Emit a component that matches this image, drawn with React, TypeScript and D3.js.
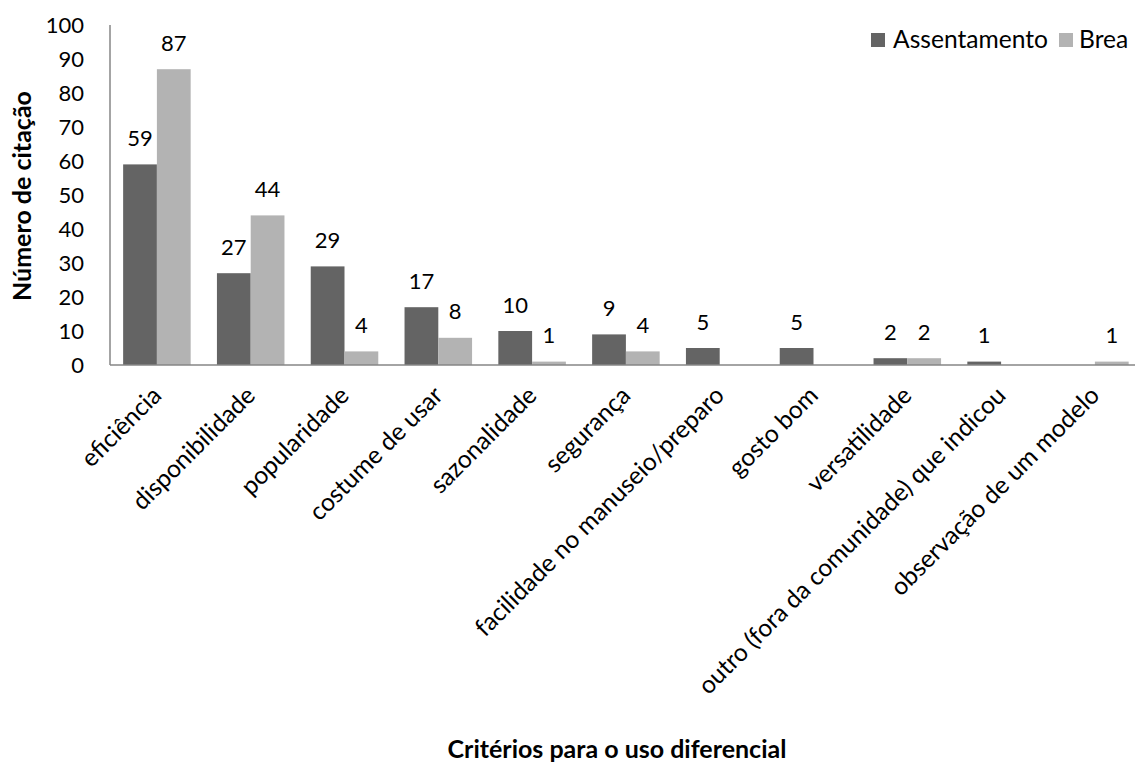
import React from "react";
import * as d3 from "d3";

const categories = [
  "eficiência",
  "disponibilidade",
  "popularidade",
  "costume de usar",
  "sazonalidade",
  "segurança",
  "facilidade no manuseio/preparo",
  "gosto bom",
  "versatilidade",
  "outro (fora da comunidade) que indicou",
  "observação de um modelo",
];

const seriesNames = ["Assentamento", "Brea"];
const assentamento: (number | null)[] = [59, 27, 29, 17, 10, 9, 5, 5, 2, 1, null];
const brea: (number | null)[] = [87, 44, 4, 8, 1, 4, null, null, 2, null, 1];
const yTicks = [0, 10, 20, 30, 40, 50, 60, 70, 80, 90, 100];

const colors = ["#646464", "#b3b3b3"];
const FONT = "Lato, 'Open Sans', sans-serif";

const W = 1135;
const H = 775;
const plotLeft = 110;
const band = 93.8;
const plotTop = 25;
const plotBottom = 365;

const numSize = 22;
const textSize = 24.6;
const titleSize = 25;

export default function App() {
  const x = d3
    .scaleBand<string>()
    .domain(categories)
    .range([plotLeft, plotLeft + band * categories.length])
    .paddingInner(0)
    .paddingOuter(0);
  const barW = x.bandwidth() * 0.36;
  const y = d3.scaleLinear().domain([0, 100]).range([plotBottom, plotTop]);

  const series = [assentamento, brea];

  return (
    <svg
      width={W}
      height={H}
      style={{ position: "absolute", left: 0, top: 0, background: "#fff" }}
      fontFamily={FONT}
    >
      {/* y axis line */}
      <line x1={plotLeft} x2={plotLeft} y1={plotTop} y2={plotBottom} stroke="#868686" strokeWidth={1.5} />
      {yTicks.map((t) => (
        <text key={t} x={84} y={y(t)} dy="0.36em" textAnchor="end" fontSize={numSize} fill="#000">
          {t}
        </text>
      ))}

      {/* bars */}
      {series.map((vals, si) =>
        vals.map((v, i) => {
          if (v == null) return null;
          const cx = (x(categories[i]) as number) + x.bandwidth() / 2;
          const bx = si === 0 ? cx - barW : cx;
          return (
            <rect
              key={`b${si}-${i}`}
              x={bx}
              y={y(v)}
              width={barW}
              height={y(0) - y(v)}
              fill={colors[si]}
            />
          );
        })
      )}

      {/* value labels */}
      {series.map((vals, si) =>
        vals.map((v, i) => {
          if (v == null) return null;
          const cx = (x(categories[i]) as number) + x.bandwidth() / 2;
          const lx = si === 0 ? cx - barW / 2 : cx + barW / 2;
          return (
            <text
              key={`l${si}-${i}`}
              x={lx}
              y={y(v) - 18.5}
              textAnchor="middle"
              fontSize={numSize}
              fill="#000"
            >
              {v}
            </text>
          );
        })
      )}

      {/* x axis line */}
      <line x1={plotLeft} x2={W} y1={plotBottom} y2={plotBottom} stroke="#868686" strokeWidth={1.5} />

      {/* category labels */}
      {categories.map((c) => {
        const cx = (x(c) as number) + x.bandwidth() / 2;
        return (
          <text
            key={c}
            transform={`translate(${cx + 6},${397}) rotate(-45)`}
            textAnchor="end"
            fontSize={textSize}
            fill="#000"
          >
            {c}
          </text>
        );
      })}

      {/* axis titles */}
      <text
        transform={`translate(31,196) rotate(-90)`}
        textAnchor="middle"
        fontSize={titleSize}
        fontWeight="bold"
        fill="#000"
      >
        Número de citação
      </text>
      <text x={617} y={758} textAnchor="middle" fontSize={titleSize} fontWeight="bold" fill="#000">
        Critérios para o uso diferencial
      </text>

      {/* legend */}
      <g>
        <rect x={871} y={33} width={14} height={14} fill={colors[0]} />
        <text x={893} y={48} fontSize={textSize} fill="#000">
          {seriesNames[0]}
        </text>
        <rect x={1059} y={33} width={14} height={14} fill={colors[1]} />
        <text x={1079} y={48} fontSize={textSize} fill="#000">
          {seriesNames[1]}
        </text>
      </g>
    </svg>
  );
}
